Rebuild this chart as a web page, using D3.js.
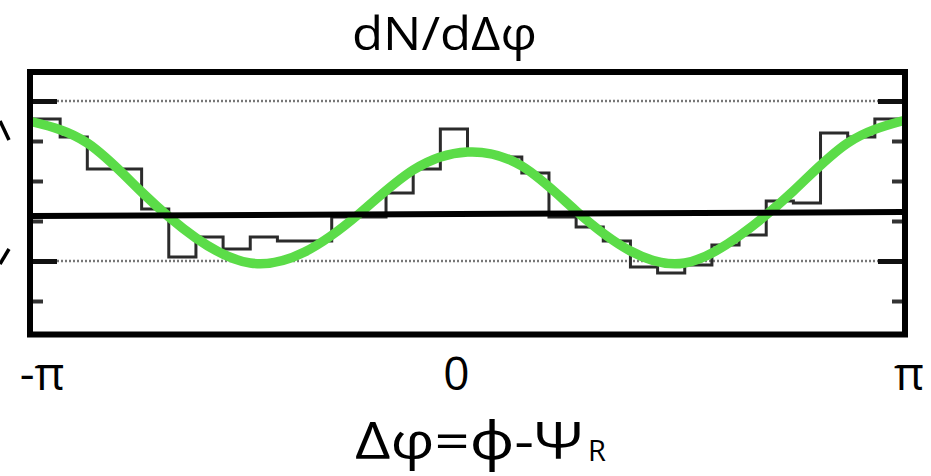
<!DOCTYPE html>
<html>
<head>
<meta charset="utf-8">
<script src="https://cdn.jsdelivr.net/npm/d3@7"></script>
<style>
  html, body { margin: 0; padding: 0; background: #fff; }
  svg { display: block; }
  text { font-family: "Open Sans", "Noto Sans", sans-serif; fill: #000; }
</style>
</head>
<body>
<svg id="chart" width="931" height="476"></svg>
<script>
// histogram of dN/dΔφ, 32 bins over [-π, π] (relative units)
const binValues = [1.355, 1.31, 1.23, 1.23, 1.13, 1.01, 1.06, 1.03,
                   1.06, 1.05, 1.05, 1.11, 1.11, 1.17, 1.23, 1.33,
                   1.27, 1.26, 1.22, 1.11, 1.085, 1.05, 0.985, 0.97,
                   0.99, 1.04, 1.065, 1.15, 1.145, 1.32, 1.31, 1.355];

// green fit curve (Δφ in units of π)
const fitPhi = [-1, -0.875, -0.75, -0.625, -0.5, -0.375, -0.25, -0.125, 0,
                0.125, 0.25, 0.375, 0.5, 0.625, 0.75, 0.875, 1];
const fitValues = [1.3475, 1.295, 1.1725, 1.0575, 0.995, 1.0225, 1.1175, 1.2275, 1.2725,
                   1.2375, 1.125, 1.025, 0.995, 1.0625, 1.175, 1.295, 1.35];

// flat black line
const flatPhi = [-1, 1];
const flatValues = [1.1125, 1.1225];

// y ticks
const majorTicks = [1.0, 1.4];
const minorTicks = [0.9, 1.1, 1.2, 1.3];

// x tick labels
const xTickPhi = [-1, 0, 1];
const xTickLabels = ['-π', '0', 'π'];

const svg = d3.select('#chart');

const plotLeft = 33, plotRight = 902;
const x = d3.scaleLinear().domain([-Math.PI, Math.PI]).range([plotLeft, plotRight]);
const y = d3.scaleLinear().domain([0.9, 1.4]).range([301, 101]);

// dotted grid lines at the major ticks
svg.append('g')
  .selectAll('line')
  .data(majorTicks)
  .join('line')
  .attr('x1', plotLeft + 24)
  .attr('x2', plotRight - 24)
  .attr('y1', d => y(d))
  .attr('y2', d => y(d))
  .attr('stroke', '#777')
  .attr('stroke-width', 2.5)
  .attr('stroke-dasharray', '2,2');

// ticks on both sides, pointing inward
function drawTicks(ticks, size, width, color) {
  const gl = svg.append('g').attr('transform', `translate(${plotLeft},0)`)
    .call(d3.axisRight(y).tickValues(ticks).tickSize(size).tickFormat(''));
  const gr = svg.append('g').attr('transform', `translate(${plotRight},0)`)
    .call(d3.axisLeft(y).tickValues(ticks).tickSize(size).tickFormat(''));
  [gl, gr].forEach(g => {
    g.select('.domain').remove();
    g.selectAll('line').attr('stroke', color).attr('stroke-width', width);
  });
}
drawTicks(majorTicks, 24, 5, '#111');
drawTicks(minorTicks, 10, 4, '#333');

// histogram (step line)
const binW = 2 * Math.PI / binValues.length;
const stepPts = binValues.map((v, i) => [-Math.PI + i * binW, v]);
stepPts.push([Math.PI, binValues[binValues.length - 1]]);

svg.append('path')
  .datum(stepPts)
  .attr('fill', 'none')
  .attr('stroke', '#2b2b2b')
  .attr('stroke-width', 3)
  .attr('d', d3.line().x(d => x(d[0])).y(d => y(d[1])).curve(d3.curveStepAfter));

// green fit
const fitPts = fitPhi.map((p, i) => [p * Math.PI, fitValues[i]]);
svg.append('path')
  .datum(fitPts)
  .attr('fill', 'none')
  .attr('stroke', '#5bdc48')
  .attr('stroke-width', 9.5)
  .attr('stroke-linecap', 'round')
  .attr('d', d3.line().x(d => x(d[0])).y(d => y(d[1])).curve(d3.curveNatural));

// flat line
const flatPts = flatPhi.map((p, i) => [p * Math.PI, flatValues[i]]);
svg.append('path')
  .datum(flatPts)
  .attr('fill', 'none')
  .attr('stroke', '#000')
  .attr('stroke-width', 6)
  .attr('d', d3.line().x(d => x(d[0])).y(d => y(d[1])));

// frame
svg.append('rect')
  .attr('x', 30).attr('y', 72)
  .attr('width', 875).attr('height', 262.5)
  .attr('fill', 'none')
  .attr('stroke', '#000')
  .attr('stroke-width', 6);

// cut-off glyphs at the left edge
svg.append('path').attr('d', 'M0,121 L9,140').attr('stroke', '#000').attr('stroke-width', 3.5).attr('fill', 'none');
svg.append('path').attr('d', 'M9,249 L0,264').attr('stroke', '#000').attr('stroke-width', 3.5).attr('fill', 'none');

// title
svg.append('text')
  .attr('x', 352).attr('y', 50)
  .attr('font-size', 46)
  .attr('textLength', 185)
  .attr('lengthAdjust', 'spacingAndGlyphs')
  .text('dN/dΔφ');

// x tick labels
const tickDx = [9, -11, 7];
svg.append('g')
  .selectAll('text')
  .data(xTickPhi)
  .join('text')
  .attr('x', (d, i) => x(d * Math.PI) + tickDx[i])
  .attr('y', 390)
  .attr('text-anchor', 'middle')
  .attr('font-size', 46)
  .text((d, i) => xTickLabels[i]);

// x axis title
svg.append('text')
  .attr('x', 355).attr('y', 459)
  .attr('font-size', 52)
  .attr('textLength', 228)
  .attr('lengthAdjust', 'spacingAndGlyphs')
  .text('Δφ=ϕ-Ψ');
svg.append('text')
  .attr('x', 588).attr('y', 461)
  .attr('font-size', 29)
  .text('R');
</script>
</body>
</html>
